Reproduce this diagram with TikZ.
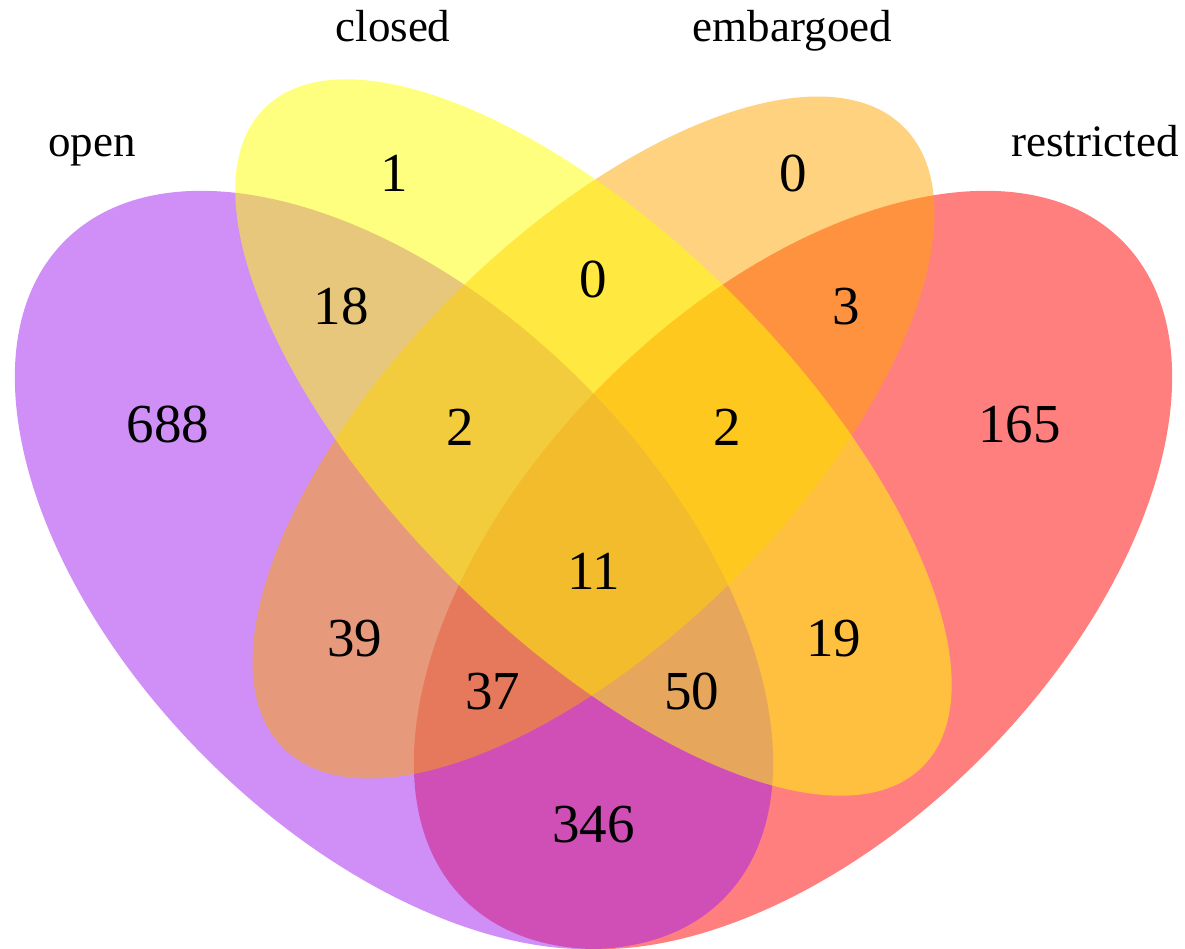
\documentclass[tikz,border=0pt]{standalone}
\usepackage{fontspec}
\setmainfont{Liberation Serif}
\definecolor{vpurple}{HTML}{A020F0}
\definecolor{vred}{HTML}{FF0000}
\definecolor{vorange}{HTML}{FFA500}
\definecolor{vyellow}{HTML}{FFFF00}
\tikzset{
  setfill/.style={fill=#1, fill opacity=0.5, draw=none},
  num/.style={anchor=base, inner sep=0pt, font=\fontsize{15.65}{18}\selectfont},
  cat/.style={anchor=base, inner sep=0pt, font=\fontsize{12.8}{15}\selectfont}
}
\begin{document}
\begin{tikzpicture}
\useasboundingbox (0,0) rectangle (11.85,9.49);
% ellipses (drawing order: restricted, open, embargoed, closed)
\fill[setfill=vred]    (7.93,3.79)  ellipse [x radius=4.655, y radius=2.66,  rotate=45];
\fill[setfill=vpurple] (3.94,3.79)  ellipse [x radius=4.655, y radius=2.66,  rotate=-45];
\fill[setfill=vorange] (5.935,5.115) ellipse [x radius=4.389, y radius=1.995, rotate=45];
\fill[setfill=vyellow] (5.935,5.115) ellipse [x radius=4.655, y radius=1.995, rotate=-45];
% category labels
\node[cat] (lopen)   at (0.92,7.925)  {open};
\node[cat] (lclosed) at (3.93,9.07)   {closed};
\node[cat] (lemb)    at (7.925,9.07)  {embargoed};
\node[cat] (lrest)   at (10.95,7.925) {restricted};
% counts
\node[num] (n1)    at (3.94,7.57)  {1};
\node[num] (n0a)   at (7.93,7.57)  {0};
\node[num] (n18)   at (3.41,6.24)  {18};
\node[num] (n0b)   at (5.935,6.51) {0};
\node[num] (n3)    at (8.46,6.24)  {3};
\node[num] (n688)  at (1.68,5.06)  {688};
\node[num] (n165)  at (10.195,5.06) {165};
\node[num] (n2a)   at (4.60,5.03)  {2};
\node[num] (n2b)   at (7.27,5.03)  {2};
\node[num] (n11)   at (5.935,3.59) {11};
\node[num] (n39)   at (3.55,2.92)  {39};
\node[num] (n19)   at (8.34,2.92)  {19};
\node[num] (n37)   at (4.93,2.39)  {37};
\node[num] (n50)   at (6.92,2.39)  {50};
\node[num] (n346)  at (5.935,1.06) {346};
\end{tikzpicture}
\end{document}
